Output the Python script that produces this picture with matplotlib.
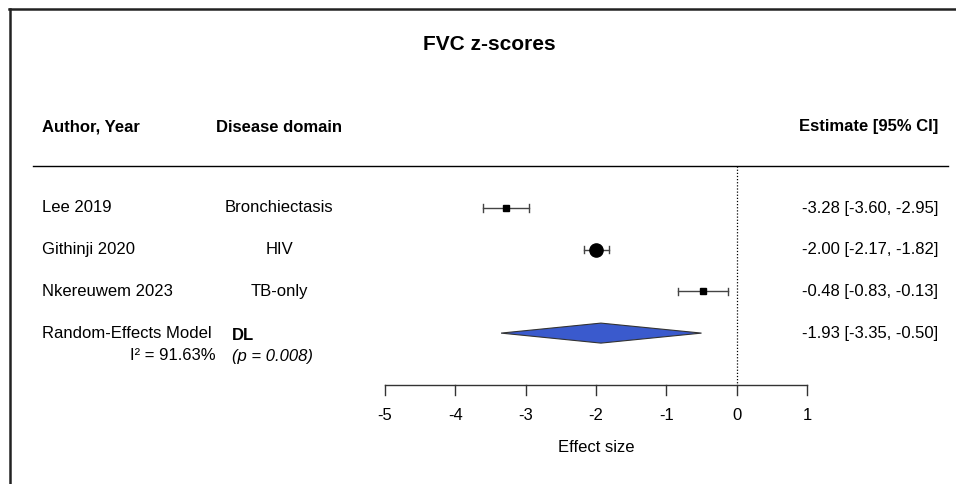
import matplotlib.pyplot as plt
from matplotlib.patches import Polygon
from matplotlib.lines import Line2D

plt.rcParams['font.family'] = ['Liberation Sans', 'DejaVu Sans']

# study data
authors = ['Lee 2019', 'Githinji 2020', 'Nkereuwem 2023']
domains = ['Bronchiectasis', 'HIV', 'TB-only']
estimates = [-3.28, -2.00, -0.48]
ci_low = [-3.60, -2.17, -0.83]
ci_high = [-2.95, -1.82, -0.13]
marker_sizes = [4, 9.5, 4]  # weight based
marker_shapes = ['s', 'o', 's']

# pooled (random effects) result
re_est = -1.93
re_low = -3.35
re_high = -0.50
i2 = 91.63
p_value = '0.008'

xticks = [-5, -4, -3, -2, -1, 0, 1]

W, H = 956, 484
fig = plt.figure(figsize=(W / 100, H / 100), dpi=100)
ax = fig.add_axes([0, 0, 1, 1])
ax.axis('off')

# map data units onto pixel layout: -5 -> 385px, 1 -> 807px ; rows every ~41.7px from 208px
px_per_unit = (807 - 385) / 6
x0 = -5 - 385 / px_per_unit
x1 = 1 + (W - 807) / px_per_unit
row_px = 41.7
y_top = -208 / row_px
y_bot = (H - 208) / row_px
ax.set_xlim(x0, x1)
ax.set_ylim(y_bot, y_top)

def xp(px):
    return x0 + px / px_per_unit

def yp(py):
    return (py - 208) / row_px

# outer frame (top and left only visible)
fig.add_artist(Line2D([9 / W, 1], [1 - 9 / H, 1 - 9 / H], color='#222222', lw=1.8))
fig.add_artist(Line2D([10 / W, 10 / W], [0, 1 - 9 / H], color='#222222', lw=1.8))

# title
ax.text(xp(489), yp(44), 'FVC z-scores', ha='center', va='center', fontsize=15, fontweight='bold')

# headers
ax.text(xp(42), yp(127), 'Author, Year', ha='left', va='center', fontsize=12, fontweight='bold')
ax.text(xp(279), yp(127), 'Disease domain', ha='center', va='center', fontsize=12, fontweight='bold')
ax.text(xp(938), yp(127), 'Estimate [95% CI]', ha='right', va='center', fontsize=12, fontweight='bold')
ax.plot([xp(33), xp(948)], [yp(166), yp(166)], color='black', lw=1)

# reference line at zero
ax.plot([0, 0], [yp(166), yp(385)], color='black', lw=0.9, ls=(0, (1, 1.5)))

# studies
for i in range(len(authors)):
    ax.plot([ci_low[i], ci_high[i]], [i, i], color='#444444', lw=1)
    cap = 0.09
    ax.plot([ci_low[i], ci_low[i]], [i - cap, i + cap], color='#444444', lw=1)
    ax.plot([ci_high[i], ci_high[i]], [i - cap, i + cap], color='#444444', lw=1)
    ax.plot(estimates[i], i, marker=marker_shapes[i], ms=marker_sizes[i], color='black', mec='black')
    ax.text(xp(42), i, authors[i], ha='left', va='center', fontsize=12)
    ax.text(xp(279), i, domains[i], ha='center', va='center', fontsize=12)
    ax.text(xp(938), i, '%.2f [%.2f, %.2f]' % (estimates[i], ci_low[i], ci_high[i]),
            ha='right', va='center', fontsize=12)

# pooled diamond
r = len(authors)
h = 10 / row_px
diamond = Polygon([[re_low, r], [re_est, r - h], [re_high, r], [re_est, r + h]],
                  closed=True, facecolor='#3A5ACD', edgecolor='#333333', lw=0.8)
ax.add_patch(diamond)
ax.text(xp(42), r, 'Random-Effects Model', ha='left', va='center', fontsize=12)
ax.text(xp(232), r + 0.05, 'DL', ha='left', va='center', fontsize=12, fontweight='bold')
ax.text(xp(938), r, '%.2f [%.2f, %.2f]' % (re_est, re_low, re_high), ha='right', va='center', fontsize=12)
ax.text(xp(216), yp(356), 'I\u00b2 = %.2f%%' % i2, ha='right', va='center', fontsize=12)
ax.text(xp(232), yp(356), '(p = %s)' % p_value, ha='left', va='center', fontsize=12, style='italic')

# x axis
ya = yp(385)
ax.plot([xticks[0], xticks[-1]], [ya, ya], color='#333333', lw=1)
for t in xticks:
    ax.plot([t, t], [ya, yp(395)], color='#333333', lw=1)
    ax.text(t, yp(416), '%d' % t, ha='center', va='center', fontsize=12)
ax.text((xticks[0] + xticks[-1]) / 2, yp(447), 'Effect size', ha='center', va='center', fontsize=12)

fig.savefig('out.png', dpi=100)
